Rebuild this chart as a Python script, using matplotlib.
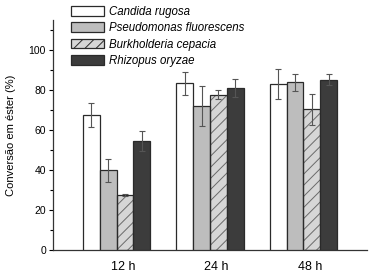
import numpy as np
import matplotlib
matplotlib.use('Agg')
import matplotlib.pyplot as plt
from matplotlib.ticker import MultipleLocator

# dados
tempos = ['12 h', '24 h', '48 h']
lipases = ['Candida rugosa', 'Pseudomonas fluorescens', 'Burkholderia cepacia', 'Rhizopus oryzae']
conversao = {
    'Candida rugosa':          [67.3, 83.3, 83.0],
    'Pseudomonas fluorescens': [39.9, 72.1, 83.9],
    'Burkholderia cepacia':    [27.3, 77.6, 70.3],
    'Rhizopus oryzae':         [54.7, 81.0, 85.2],
}
erro = {
    'Candida rugosa':          [6.0, 5.7, 7.5],
    'Pseudomonas fluorescens': [5.8, 9.9, 4.2],
    'Burkholderia cepacia':    [0.5, 2.3, 7.8],
    'Rhizopus oryzae':         [5.0, 4.5, 2.9],
}

cores = ['#ffffff', '#bdbdbd', '#d6d6d6', '#3c3c3c']
hachuras = [None, None, '///', None]

plt.rcParams['font.family'] = ['Liberation Sans', 'DejaVu Sans']
plt.rcParams['hatch.linewidth'] = 0.7

fig = plt.figure(figsize=(3.69, 2.74), dpi=100)
ax = fig.add_axes([0.1436, 0.0876, 0.851, 0.8394])

x = np.arange(len(tempos))
w = 0.18
handles = []
for i, nome in enumerate(lipases):
    pos = x + (i - 1.5) * w
    if hachuras[i]:
        ax.bar(pos, conversao[nome], w, color=cores[i], edgecolor='#6a6a6a',
               hatch=hachuras[i], linewidth=0, zorder=2)
        ax.bar(pos, conversao[nome], w, fill=False, edgecolor='#2a2a2a',
               linewidth=0.9, zorder=3)
    else:
        ax.bar(pos, conversao[nome], w, color=cores[i], edgecolor='#2a2a2a',
               linewidth=0.9, zorder=3)
    ax.errorbar(pos, conversao[nome], yerr=erro[nome], fmt='none',
                ecolor='#555555', elinewidth=0.8, capsize=2.5, capthick=0.8, zorder=4)
    h = matplotlib.patches.Patch(facecolor=cores[i], edgecolor='#2a2a2a',
                                 hatch=hachuras[i], linewidth=0.9)
    handles.append(h)

ax.set_xlim(-0.68, 2.68)
ax.set_ylim(0, 115)
ax.set_xticks(x + 0.07)
ax.set_xticklabels(tempos, fontsize=9)
ax.tick_params(axis='x', length=0, pad=8)
ax.yaxis.set_major_locator(MultipleLocator(20))
ax.yaxis.set_minor_locator(MultipleLocator(10))
ax.set_yticks(np.arange(0, 101, 20))
ax.tick_params(axis='y', which='major', length=3, width=0.8, labelsize=7.5, pad=2)
ax.tick_params(axis='y', which='minor', length=2, width=0.8)
for s in ['top', 'right']:
    ax.spines[s].set_visible(False)
for s in ['left', 'bottom']:
    ax.spines[s].set_linewidth(0.9)
    ax.spines[s].set_color('#333333')
ax.set_ylabel('Conversão em éster (%)', fontsize=8, labelpad=9)

leg = fig.legend(handles, lipases, loc='upper left', bbox_to_anchor=(0.17, 1.008),
                 frameon=False, prop={'style': 'italic', 'size': 8.3},
                 handlelength=2.9, handleheight=0.9, labelspacing=0.38,
                 handletextpad=0.45, borderpad=0.2)

fig.savefig('out.png', dpi=100)
